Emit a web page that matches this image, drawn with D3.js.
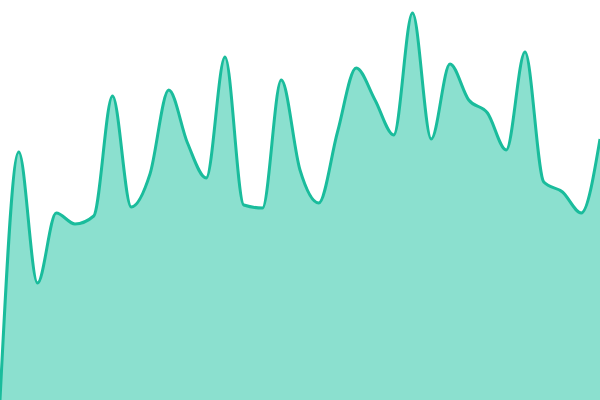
<!DOCTYPE html>
<html>
<head>
<script src="https://cdn.jsdelivr.net/npm/d3@7"></script>
<style>
  body { margin: 0; background: #fff; }
</style>
</head>
<body>
<div id="output"></div>
<script>
    var width = 600;
    var height = 400;

    var line_color = '#1abc9c';
    var fill_color = '#8be0cf';

    // one value per step, evenly spaced across the width
    var steps = d3.range(33);
    var values = [0, 248, 117, 187, 176, 184, 304, 193, 226, 310,
                  257, 222, 343, 195, 192, 320, 230, 197, 268, 332,
                  300, 265, 387, 261, 336, 300, 287, 250, 348, 218,
                  208, 187, 261];

    var data = steps.map((s, i) => ({ x: s, y: values[i] }));

    var svg = d3.select("#output").append("svg")
            .attr("width", width)
            .attr("height", height);

    var x = d3.scaleLinear().domain([0, steps.length - 1]).range([0, width]);
    var y = d3.scaleLinear().domain([0, 400]).range([height, 0]);

    var area = d3.area()
        .x(d => x(d.x))
        .y0(height)
        .y1(d => y(d.y))
        .curve(d3.curveMonotoneX);

    var line = d3.line()
        .x(d => x(d.x))
        .y(d => y(d.y))
        .curve(d3.curveMonotoneX);

    svg.append('path')
        .datum(data)
        .attr('d', area)
        .attr('fill', fill_color);

    svg.append('path')
        .datum(data)
        .attr('d', line)
        .attr('fill', 'none')
        .attr('stroke', line_color)
        .attr('stroke-width', 3);
</script>
</body>
</html>
